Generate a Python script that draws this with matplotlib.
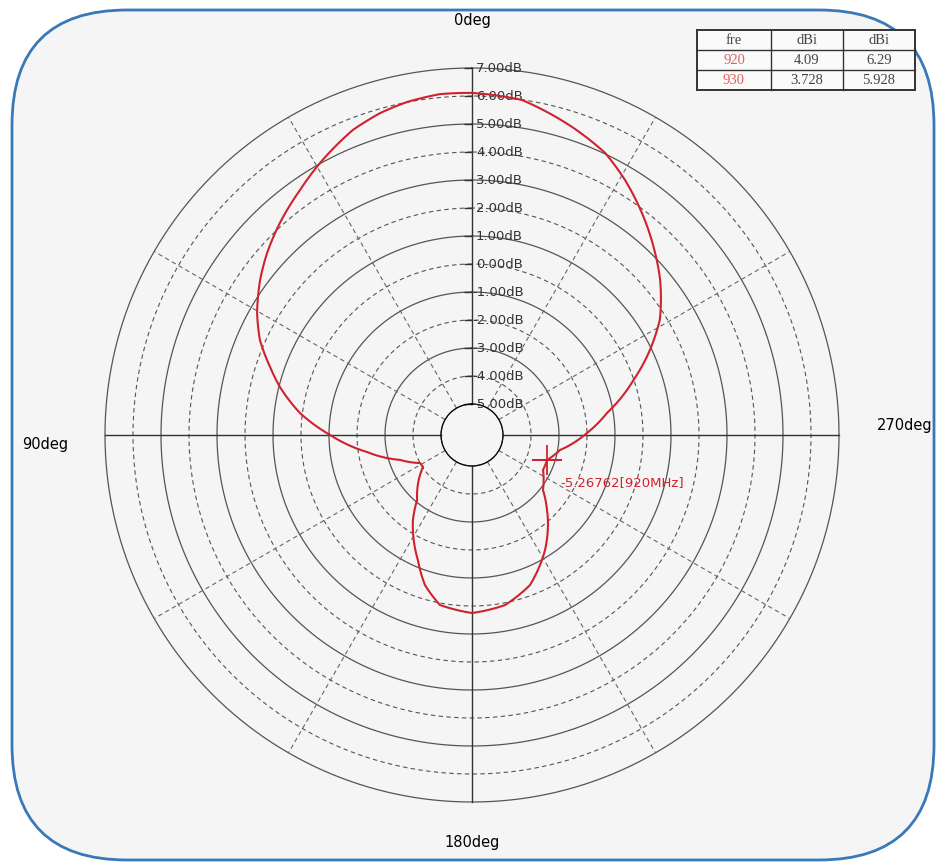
import numpy as np
import matplotlib
matplotlib.use("Agg")
import matplotlib.pyplot as plt
from matplotlib.patches import FancyBboxPatch, Rectangle

# radiation pattern (920 MHz), angle in deg (0 = top, counter-clockwise), gain in dB
angles = [0, 5.4, 11.0, 15.9, 21.3, 29.2, 35.1, 42.2, 48.4, 53.8, 60.4, 65.9, 71.4,
          76.0, 82.7, 90, 99.2, 109.1, 118.3, 123.1, 139.8, 145.2, 156.6, 162.6,
          169.3, 180, 191, 201.1, 212.4, 221.8, 225, 232.2, 243.8, 251.6, 260.3,
          271, 279.3, 288.9, 294.0, 301.5, 309.5, 314.8, 322.6, 329, 334.7, 342,
          351.5, 360]
gain = [6.11, 6.12, 6.01, 5.85, 5.59, 5.02, 4.58, 4.11, 3.68, 3.27, 2.72, 2.19, 1.50,
        0.96, 0.09, -1.04, -2.31, -3.39, -4.0, -4.02, -3.07, -2.41, -1.24, -0.49,
        0.07, 0.25, 0.08, -0.36, -1.24, -2.04, -2.32, -2.9, -3.28, -3.28, -2.92,
        -2.0, -1.22, 0.0, 0.72, 1.76, 2.6, 3.11, 3.88, 4.51, 5.03, 5.46,
        5.99, 6.11]

ring_levels = list(range(-5, 8))
marker_angle = 251.6
marker_gain = -3.28
marker_text = "-5.26762[920MHz]"

angle_labels = ["0deg", "90deg", "180deg", "270deg"]

table_header = ["fre", "dBi", "dBi"]
table_rows = [["920", "4.09", "6.29"],
              ["930", "3.728", "5.928"]]

W, H = 937, 863
fig = plt.figure(figsize=(W / 100, H / 100), dpi=100)
fig.patch.set_facecolor("white")

# background / frame in pixel coordinates
bg = fig.add_axes([0, 0, 1, 1])
bg.set_xlim(0, W)
bg.set_ylim(H, 0)
bg.axis("off")
frame = FancyBboxPatch((12, 10), 922, 850, boxstyle="round,pad=0,rounding_size=115",
                       facecolor="#f5f5f5", edgecolor="#3a78b8", linewidth=2)
bg.add_patch(frame)

# table top right
col_x = [697, 771, 843, 915]
row_y = [30, 50, 70, 90]
bg.add_patch(Rectangle((col_x[0], row_y[0]), col_x[-1] - col_x[0], row_y[-1] - row_y[0],
                       facecolor="#fafafa", edgecolor="#333333", linewidth=1.4, zorder=3))
for x in col_x[1:-1]:
    bg.plot([x, x], [row_y[0], row_y[-1]], color="#333333", lw=1, zorder=4)
for y in row_y[1:-1]:
    bg.plot([col_x[0], col_x[-1]], [y, y], color="#333333", lw=1, zorder=4)
for j, txt in enumerate(table_header):
    bg.text((col_x[j] + col_x[j + 1]) / 2, (row_y[0] + row_y[1]) / 2 + 1, txt,
            ha="center", va="center", fontsize=10.5, family="Liberation Serif",
            color="#444444", zorder=5)
for i, row in enumerate(table_rows):
    for j, txt in enumerate(row):
        bg.text((col_x[j] + col_x[j + 1]) / 2, (row_y[i + 1] + row_y[i + 2]) / 2 + 1, txt,
                ha="center", va="center", fontsize=10.5, family="Liberation Serif",
                color="#e06060" if j == 0 else "#444444", zorder=5)

# polar chart: centre (472, 435) px, outer radius 367 px
cx, cy, R = 472, 435, 367
ax = fig.add_axes([(cx - R) / W, (H - cy - R) / H, 2 * R / W, 2 * R / H], projection="polar")
ax.set_theta_zero_location("N")
ax.set_theta_direction(1)
ax.set_ylim(-5, 7)
ax.set_rorigin(-6.107)
ax.grid(False)
ax.set_xticks([])
ax.set_yticks([])
ax.patch.set_visible(False)
for s in ax.spines.values():
    s.set_visible(False)

th = np.linspace(0, 2 * np.pi, 721)
for v in ring_levels:
    if v % 2:
        ax.plot(th, np.full_like(th, v), color="#555555", lw=0.9, clip_on=False)
    else:
        ax.plot(th, np.full_like(th, v), color="#555555", lw=0.8, ls=(0, (4, 3)), clip_on=False)

for deg in range(0, 360, 30):
    t = np.deg2rad(deg)
    if deg % 90 == 0:
        ax.plot([t, t], [-5, 7], color="#333333", lw=1.0, clip_on=False)
    else:
        ax.plot([t, t], [-5, 7], color="#666666", lw=0.8, ls=(0, (4, 3)), clip_on=False)

# radial scale labels along the top axis
ax.plot(np.zeros(len(ring_levels)), ring_levels, ls="none", marker=0, markersize=6,
        color="#333333", mew=1.0, clip_on=False)
for v in ring_levels:
    lab = f"{v:.2f}dB"
    off = 0 if v < 0 else 4
    ax.annotate(lab, xy=(0, v), xytext=(off, 0), textcoords="offset pixels",
                ha="left", va="center", fontsize=9.5, color="#333333",
                annotation_clip=False)

# pattern curve (interpolated along theta by the polar transform)
curve, = ax.plot(np.deg2rad(angles), gain, color="#d0222e", lw=1.5, clip_on=False, zorder=5)
curve.get_path()._interpolation_steps = 30

# marker
ax.plot(np.deg2rad(marker_angle), marker_gain, marker="+", markersize=22, mew=1.3,
        color="#d0222e", zorder=6)
ax.annotate(marker_text, xy=(np.deg2rad(marker_angle), marker_gain), xytext=(13, -23),
            textcoords="offset pixels", ha="left", va="center", fontsize=9.5,
            color="#d0222e", annotation_clip=False)

# angle labels
offsets = [(0, 48), (-60, -10), (0, -41), (66, 10)]
for lab, deg, off in zip(angle_labels, [0, 90, 180, 270], offsets):
    ax.annotate(lab, xy=(np.deg2rad(deg), 7), xytext=off, textcoords="offset pixels",
                ha="center", va="center", fontsize=10.5, color="black",
                annotation_clip=False)

fig.savefig("out.png", dpi=100)
